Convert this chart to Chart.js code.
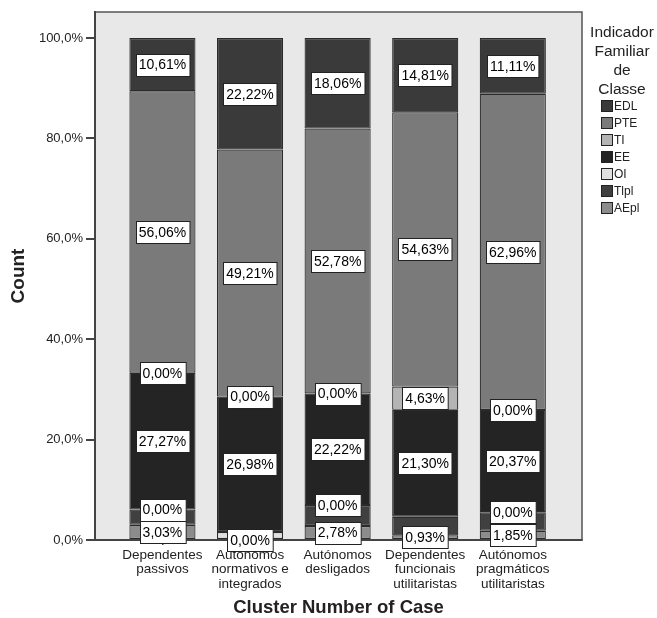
<!DOCTYPE html>
<html>
<head>
<meta charset="utf-8">
<script src="https://cdn.jsdelivr.net/npm/chart.js@4.4.1/dist/chart.umd.min.js"></script>
<style>
  html, body { margin: 0; padding: 0; background: #fff; }
  #wrap { width: 657px; height: 618px; }
</style>
</head>
<body>
<div id="wrap"><canvas id="chart" width="657" height="618"></canvas></div>
<script>
// clusters on the x axis, one label line per array entry
const clusters = [
    ["Dependentes", "passivos"],
    ["Autónomos", "normativos e", "integrados"],
    ["Autónomos", "desligados"],
    ["Dependentes", "funcionais", "utilitaristas"],
    ["Autónomos", "pragmáticos", "utilitaristas"]
];

// stack order, bottom to top
const classes = ["AEpl", "Tlpl", "OI", "EE", "TI", "PTE", "EDL"];
const classColors = ["#8c8c8c", "#404040", "#e0e0e0", "#242424", "#b4b4b4", "#7a7a7a", "#3a3a3a"];

// percent of each cluster
const aepl = [3.03, 0.00, 2.78, 0.93, 1.85];
const tlpl = [3.03, 0.00, 4.17, 3.70, 3.70];
const oi   = [0.00, 1.59, 0.00, 0.00, 0.00];
const ee   = [27.27, 26.98, 22.22, 21.30, 20.37];
const ti   = [0.00, 0.00, 0.00, 4.63, 0.00];
const pte  = [56.06, 49.21, 52.78, 54.63, 62.96];
const edl  = [10.61, 22.22, 18.06, 14.81, 11.11];

const yTicks = [0, 20, 40, 60, 80, 100];

const legendTitle = ["Indicador", "Familiar", "de", "Classe"];

const seriesValues = [aepl, tlpl, oi, ee, ti, pte, edl];
const fontFamily = 'Arial, "Liberation Sans", Helvetica, sans-serif';
const ink = "#222";

const pct = v => v.toFixed(2).replace(".", ",") + "%";

// grey plot frame, a little larger than the value range
const framePlugin = {
    id: "frame",
    beforeDraw(chart) {
        const { ctx, chartArea: a } = chart;
        ctx.save();
        ctx.fillStyle = "#e8e8e8";
        ctx.fillRect(a.left, a.top, a.right - a.left, a.bottom - a.top);
        ctx.strokeStyle = "#555";
        ctx.lineWidth = 1.5;
        ctx.strokeRect(a.left, a.top, a.right - a.left, a.bottom - a.top);
        ctx.restore();
    }
};

// white value boxes centred in each segment, skipped when they would overlap
const valueLabels = {
    id: "valueLabels",
    afterDatasetsDraw(chart) {
        const { ctx } = chart;
        const boxH = 22;
        ctx.save();
        ctx.font = "14px " + fontFamily;
        ctx.textAlign = "center";
        ctx.textBaseline = "middle";
        clusters.forEach((_, k) => {
            const placed = [];
            chart.data.datasets.forEach((ds, i) => {
                const el = chart.getDatasetMeta(i).data[k];
                if (!el) return;
                const cy = (el.y + el.base) / 2;
                if (placed.some(p => Math.abs(p - cy) < boxH)) return;
                placed.push(cy);
                const text = pct(ds.data[k].y);
                const w = ctx.measureText(text).width + 6;
                const x0 = Math.round(el.x - w / 2) + 0.5;
                const y0 = Math.round(cy - boxH / 2) + 0.5;
                ctx.fillStyle = "#fff";
                ctx.fillRect(x0, y0, w, boxH);
                ctx.strokeStyle = "#222";
                ctx.lineWidth = 1;
                ctx.strokeRect(x0, y0, w, boxH);
                ctx.fillStyle = "#000";
                ctx.fillText(text, el.x, cy + 1);
            });
        });
        ctx.restore();
    }
};

// legend on the right, top class first
const sideLegend = {
    id: "sideLegend",
    afterDraw(chart) {
        const { ctx } = chart;
        const cx = 622;
        ctx.save();
        ctx.fillStyle = ink;
        ctx.textAlign = "center";
        ctx.textBaseline = "middle";
        ctx.font = "15.5px " + fontFamily;
        legendTitle.forEach((line, i) => ctx.fillText(line, cx, 33 + i * 19));

        ctx.font = "12px " + fontFamily;
        ctx.textAlign = "left";
        const items = chart.data.datasets.slice().reverse();
        items.forEach((ds, i) => {
            const y = 106 + i * 17;
            ctx.fillStyle = ds.backgroundColor;
            ctx.fillRect(601.5, y - 5.5, 11, 11);
            ctx.strokeStyle = "#222";
            ctx.lineWidth = 1;
            ctx.strokeRect(601.5, y - 5.5, 11, 11);
            ctx.fillStyle = ink;
            ctx.fillText(ds.label, 614, y + 0.5);
        });
        ctx.restore();
    }
};

new Chart(document.getElementById("chart"), {
    type: "bar",
    data: {
        datasets: classes.map((name, i) => ({
            label: name,
            data: seriesValues[i].map((v, k) => ({ x: k, y: v })),
            backgroundColor: classColors[i],
            borderColor: "#2b2b2b",
            borderWidth: 1.2,
            borderSkipped: false,
            stack: "cluster",
            barPercentage: 0.755,
            categoryPercentage: 1
        }))
    },
    options: {
        responsive: false,
        animation: false,
        devicePixelRatio: 1,
        layout: { padding: { top: 12, right: 75, left: 0, bottom: 0 } },
        plugins: {
            legend: { display: false },
            tooltip: { enabled: false }
        },
        scales: {
            x: {
                type: "linear",
                min: -0.77,
                max: 4.79,
                offset: false,
                bounds: "data",
                afterBuildTicks: s => { s.ticks = clusters.map((_, i) => ({ value: i })); },
                afterFit: s => { s.height = 78; },
                ticks: {
                    callback: v => clusters[v],
                    font: { family: fontFamily, size: 13.5, lineHeight: 1.07 },
                    color: ink,
                    padding: 3,
                    maxRotation: 0,
                    autoSkip: false
                },
                grid: { offset: false, drawOnChartArea: false, tickLength: 5, color: "#444", lineWidth: 1.5 },
                border: { color: "#444", width: 2 },
                title: {
                    display: true,
                    text: "Cluster Number of Case",
                    color: ink,
                    font: { family: fontFamily, size: 18.5, weight: "bold", lineHeight: 1 },
                    padding: { top: 4, bottom: 0.5 }
                }
            },
            y: {
                stacked: true,
                min: 0,
                max: 105.18,
                afterBuildTicks: s => { s.ticks = yTicks.map(v => ({ value: v })); },
                afterFit: s => { s.width = 95; },
                ticks: {
                    callback: v => v.toFixed(1).replace(".", ",") + "%",
                    font: { family: fontFamily, size: 13 },
                    color: ink,
                    padding: 3
                },
                grid: { drawOnChartArea: false, tickLength: 9, color: "#444", lineWidth: 2 },
                border: { color: "#444", width: 2 },
                title: {
                    display: true,
                    text: "Count",
                    color: ink,
                    font: { family: fontFamily, size: 19, weight: "bold", lineHeight: 1 },
                    padding: { top: 9, bottom: 0 }
                }
            }
        }
    },
    plugins: [framePlugin, valueLabels, sideLegend]
});
</script>
</body>
</html>
